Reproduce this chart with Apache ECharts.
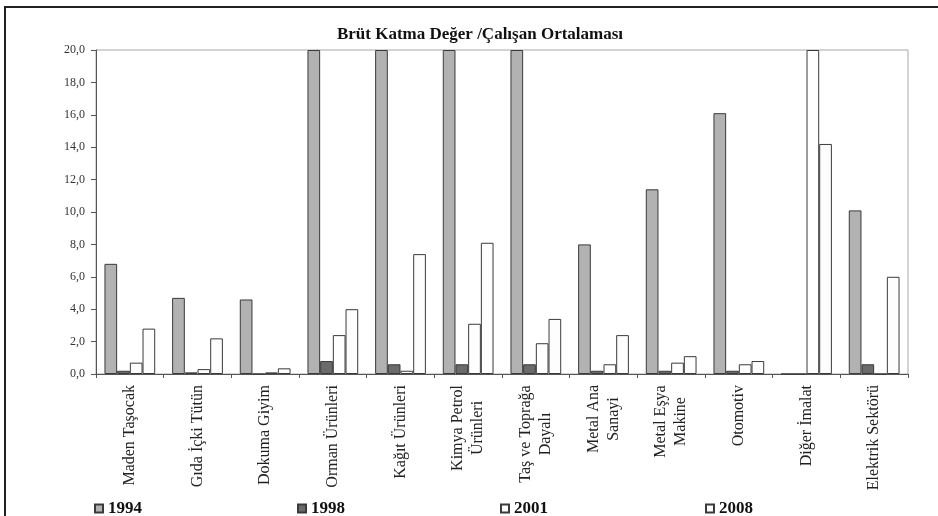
<!DOCTYPE html>
<html><head><meta charset="utf-8">
<script src="https://cdn.jsdelivr.net/npm/echarts@6/dist/echarts.min.js"></script>
<style>html,body{margin:0;padding:0;background:#fff}#c{width:938px;height:516px}</style>
</head><body><div id="c"></div>
<script>
var titleText = 'Brüt Katma Değer /Çalışan Ortalaması';
var categories = ['Maden Taşocak','Gıda İçki Tütün','Dokuma Giyim','Orman Ürünleri','Kağıt Ürünleri','Kimya Petrol\nÜrünleri','Taş ve Toprağa\nDayalı','Metal Ana\nSanayi','Metal Eşya\nMakine','Otomotiv','Diğer İmalat','Elektrik Sektörü'];
var seriesNames = ['1994','1998','2001','2008'];
var v1994 = [6.8, 4.7, 4.6, 20, 20, 20, 20, 8.0, 11.4, 16.1, 0, 10.1];
var v1998 = [0.2, 0.1, 0, 0.8, 0.6, 0.6, 0.6, 0.2, 0.2, 0.2, 0, 0.6];
var v2001 = [0.7, 0.3, 0.1, 2.4, 0.2, 3.1, 1.9, 0.6, 0.7, 0.6, 20, 0];
var v2008 = [2.8, 2.2, 0.35, 4.0, 7.4, 8.1, 3.4, 2.4, 1.1, 0.8, 14.2, 6.0];
var yMin = 0, yMax = 20, yStep = 2;

var serif = '"Liberation Serif", "Times New Roman", serif';
var xFontSize = 16;
var cv = document.createElement('canvas').getContext('2d');
cv.font = xFontSize + 'px "Liberation Serif"';
var rich = {};
categories.forEach(function (c, i) {
  var lines = c.split('\n');
  if (lines.length > 1) {
    var w = Math.max.apply(null, lines.map(function (l) { return cv.measureText(l).width; }));
    rich['r' + i] = { width: Math.ceil(w), align: 'center', fontFamily: serif, fontSize: xFontSize, color: '#222', lineHeight: 20 };
  }
});

var fills = ['#b2b2b2', '#6b6b6b', '#ffffff', '#fdfdfd'];
var datas = [v1994, v1998, v2001, v2008];
var chart = echarts.init(document.getElementById('c'), null, { renderer: 'canvas' });
var legendLefts = [94, 297, 500, 705];

chart.setOption({
  animation: false,
  backgroundColor: '#ffffff',
  title: {
    text: titleText, left: 475, top: 21, textAlign: 'center',
    textStyle: { fontFamily: serif, fontWeight: 'bold', fontSize: 17, color: '#111' }
  },
  legend: seriesNames.map(function (n, i) {
    return {
      data: [n], left: legendLefts[i], top: 500, orient: 'horizontal',
      itemWidth: 8, itemHeight: 8, icon: 'rect', padding: 0,
      textStyle: { fontFamily: serif, fontWeight: 'bold', fontSize: 17, color: '#111', padding: [2, 0, 0, 0] }
    };
  }),
  grid: { left: 96, right: 30, top: 50, bottom: 142, show: true, borderColor: '#a8a8a8', borderWidth: 1, backgroundColor: 'transparent' },
  graphic: [{
    type: 'rect', shape: { x: 5, y: 7, width: 1200, height: 1000 },
    style: { fill: 'none', stroke: '#222', lineWidth: 2 }, silent: true, z: 100
  }],
  xAxis: {
    type: 'category', data: categories, boundaryGap: true,
    axisLine: { lineStyle: { color: '#555', width: 1 } },
    axisTick: { show: true, length: 4, alignWithLabel: false, lineStyle: { color: '#555' } },
    axisLabel: {
      interval: 0, rotate: 90, margin: 11,
      fontFamily: serif, fontSize: xFontSize, color: '#222', lineHeight: 20,
      formatter: function (v, i) {
        var lines = v.split('\n');
        if (lines.length > 1) return lines.map(function (l) { return '{r' + i + '|' + l + '}'; }).join('\n');
        return v;
      },
      rich: rich
    },
    splitLine: { show: false }
  },
  yAxis: {
    type: 'value', min: yMin, max: yMax, interval: yStep,
    axisLine: { show: true, lineStyle: { color: '#555', width: 1 } },
    axisTick: { show: true, length: 5, lineStyle: { color: '#555' } },
    axisLabel: {
      margin: 11, fontFamily: serif, fontSize: 12, color: '#333',
      formatter: function (v) { return v.toFixed(1).replace('.', ','); }
    },
    splitLine: { show: false }
  },
  series: seriesNames.map(function (n, i) {
    return {
      name: n, type: 'bar', data: datas[i],
      barGap: '0%', barCategoryGap: '25%',
      itemStyle: { color: fills[i], borderColor: '#3a3a3a', borderWidth: 1 },
      clip: true
    };
  })
});
</script>
</body></html>
